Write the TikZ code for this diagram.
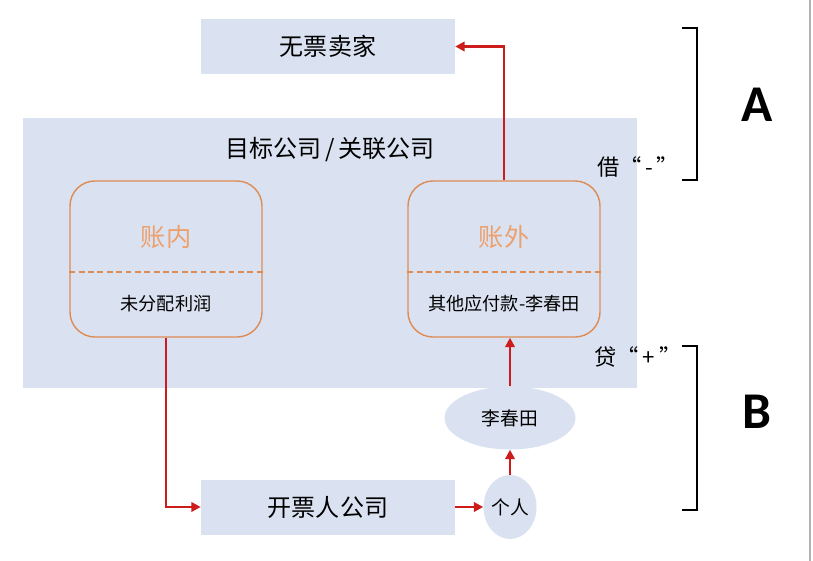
\documentclass[tikz,border=0pt]{standalone}
\usepackage{fontspec}
\newfontfamily\cjk{Noto Sans CJK SC}
\newfontfamily\letterfont{Carlito}
\usetikzlibrary{arrows.meta,shapes.geometric,positioning}
\definecolor{boxblue}{RGB}{218,226,241}
\definecolor{edgeorange}{RGB}{222,140,85}
\definecolor{titleorange}{RGB}{236,160,110}
\definecolor{arrowred}{RGB}{205,28,28}
\tikzset{
  bluebox/.style={fill=boxblue,minimum width=7.62cm,minimum height=1.65cm,font=\cjk\fontsize{20.5}{24}\selectfont},
  acct/.style={draw=edgeorange,line width=1.2pt,rounded corners=0.75cm,minimum width=5.76cm,minimum height=4.68cm},
  divider/.style={draw=edgeorange,dash pattern=on 5pt off 3pt,line width=0.9pt},
  flow/.style={draw=arrowred,line width=2.4pt,-{Triangle[length=8pt,width=8pt]}},
  blob/.style={ellipse,fill=boxblue,inner sep=0pt,font=\cjk\fontsize{16}{19}\selectfont},
  bracket/.style={draw=black,line width=1.2pt},
}
\begin{document}
\begin{tikzpicture}[x=0.03cm,y=-0.03cm]
  \useasboundingbox (0,0) rectangle (813,561);
  \fill[white] (0,0) rectangle (813,561);
  \draw[gray!60,line width=1pt] (810,0) -- (810,561);
  % company block
  \node[fill=boxblue,minimum width=18.42cm,minimum height=8.1cm] (firm) at (330,253) {};
  \node[font=\cjk\fontsize{20.5}{24}\selectfont] (firmtitle) at (330,150) {目标公司\,/\,关联公司};
  \node[acct] (nei) at (166,259) {};
  \node[acct] (wai) at (504,259) {};
  \draw[divider] ([yshift=-0.39cm]nei.west) -- ([yshift=-0.39cm]nei.east);
  \draw[divider] ([yshift=-0.39cm]wai.west) -- ([yshift=-0.39cm]wai.east);
  \node[font=\cjk\fontsize{21.5}{25}\selectfont,text=titleorange] at (166,237) {账内};
  \node[font=\cjk\fontsize{21.5}{25}\selectfont,text=titleorange] at (504,237) {账外};
  \node[font=\cjk\fontsize{15.5}{18}\selectfont] at (166,304) {未分配利润};
  \node[font=\cjk\fontsize{15.5}{18}\selectfont] at (504,304) {其他应付款-李春田};
  % outside parties
  \node[bluebox] (seller) at (328,46.5) {无票卖家};
  \node[bluebox] (issuer) at (328,507) {开票人公司};
  \node[blob,minimum width=1.56cm,minimum height=1.92cm] (person) at (510,507) {个人};
  \node[blob,minimum width=3.93cm,minimum height=1.89cm] (li) at (510,418) {李春田};
  % money flow
  \draw[flow] (wai.north) |- (seller.east);
  \draw[flow] (nei.south) |- (issuer.west);
  \draw[flow] (issuer.east) -- (person.west);
  \draw[flow] (person.north) -- (li.south);
  \draw[flow] (li.north) -- (li.north |- wai.south);
  % debit / credit
  \node[font=\cjk\fontsize{19}{22}\selectfont] (debit) at (638,167) {借“\,-\,”};
  \node[font=\cjk\fontsize{19}{22}\selectfont] (credit) at (638,357) {贷“\,+\,”};
  \draw[bracket] (682,28) -- (697,28) -- (697,180) -- (682,180);
  \draw[bracket] (682,346) -- (697,346) -- (697,510) -- (682,510);
  \node[font=\letterfont\bfseries\fontsize{44}{50}\selectfont] (parta) at (757,105) {A};
  \node[font=\letterfont\bfseries\fontsize{44}{50}\selectfont] (partb) at (757,412) {B};
\end{tikzpicture}
\end{document}
